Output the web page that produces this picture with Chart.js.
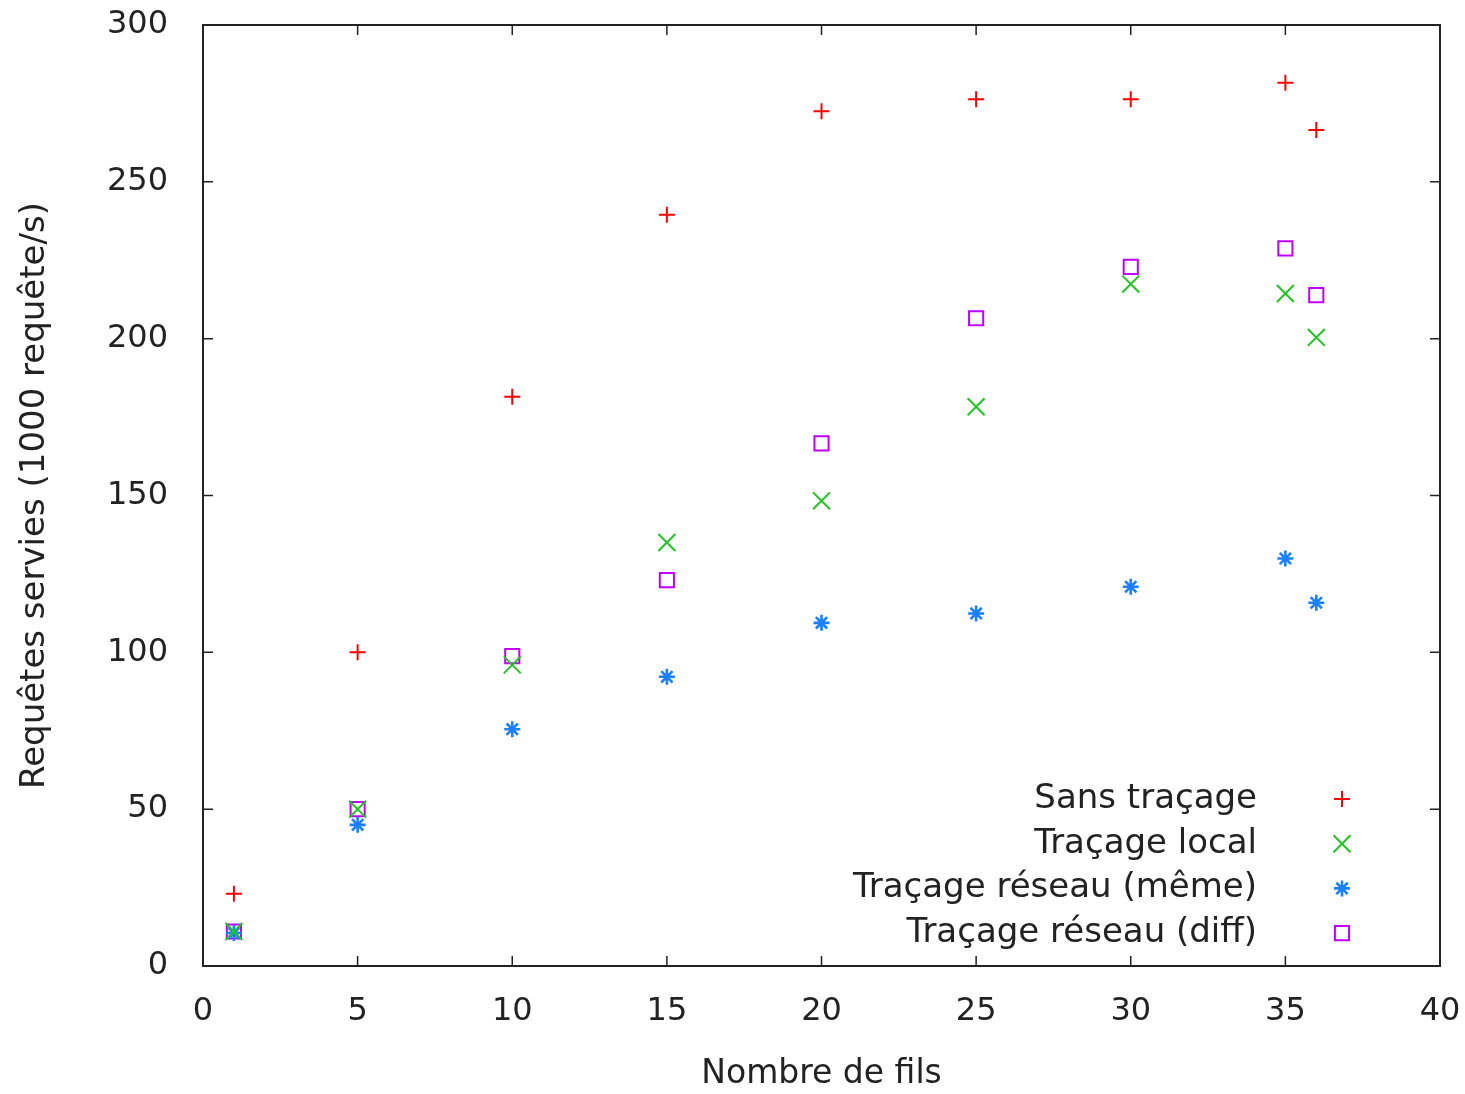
<!DOCTYPE html>
<html>
<head>
<meta charset="utf-8">
<script src="https://cdn.jsdelivr.net/npm/chart.js@4"></script>
<style>
  html, body { margin: 0; padding: 0; background: #fff; }
  #wrap { width: 1465px; height: 1094px; }
</style>
</head>
<body>
<div id="wrap"><canvas id="myChart"></canvas></div>
<script>
/* global Chart */

// data
const threads = [1, 5, 10, 15, 20, 25, 30, 35, 36];
const sansTracage = [23, 100, 181.5, 239.5, 272.5, 276.3, 276.3, 281.6, 266.5];
const tracageLocal = [11, 50, 96, 135, 148.3, 178.3, 217.4, 214.4, 200.4];
const reseauMeme = [10.5, 45, 75.5, 92.2, 109.4, 112.4, 120.9, 129.9, 115.8];
const reseauDiff = [11, 50, 98.8, 123, 166.6, 206.5, 222.9, 228.8, 213.9];
const xTicks = [0, 5, 10, 15, 20, 25, 30, 35, 40];
const yTicks = [0, 50, 100, 150, 200, 250, 300];

const seriesLabels = ["Sans traçage", "Traçage local", "Traçage réseau (même)", "Traçage réseau (diff)"];

const FONT = "'DejaVu Sans', sans-serif";
const TEXT = "#222222";

function points(values) {
  return threads.map(function (t, i) {
    return { x: t, y: values[i] };
  });
}

function series(label, values, color, style, radius, width) {
  return {
    label: label,
    data: points(values),
    borderColor: color,
    backgroundColor: "rgba(0,0,0,0)",
    pointStyle: style,
    pointRadius: radius,
    pointHoverRadius: radius,
    pointBorderWidth: width,
    showLine: false,
  };
}

// frame with inward ticks on all four sides, like gnuplot
const framePlugin = {
  id: "frame",
  beforeDatasetsDraw: function (chart) {
    const ctx = chart.ctx;
    const a = chart.chartArea;
    const xs = chart.scales.x;
    const ys = chart.scales.y;
    const len = 10;
    ctx.save();
    ctx.strokeStyle = "#222";
    ctx.lineWidth = 1.5;
    ctx.beginPath();
    xTicks.forEach(function (v) {
      const px = xs.getPixelForValue(v);
      ctx.moveTo(px, a.bottom);
      ctx.lineTo(px, a.bottom - len);
      ctx.moveTo(px, a.top);
      ctx.lineTo(px, a.top + len);
    });
    yTicks.forEach(function (v) {
      const py = ys.getPixelForValue(v);
      ctx.moveTo(a.left, py);
      ctx.lineTo(a.left + len, py);
      ctx.moveTo(a.right, py);
      ctx.lineTo(a.right - len, py);
    });
    ctx.stroke();
    ctx.lineWidth = 2;
    ctx.strokeRect(a.left, a.top, a.right - a.left, a.bottom - a.top);
    ctx.restore();
  },
};

// key in the lower right, text right-aligned, marker after it
const keyPlugin = {
  id: "key",
  afterDatasetsDraw: function (chart) {
    const ctx = chart.ctx;
    const a = chart.chartArea;
    const textRight = a.right - 183;
    const markX = a.right - 98;
    const firstRow = a.bottom - 167;
    const rowGap = 44.7;
    ctx.save();
    ctx.font = "34px " + FONT;
    ctx.textAlign = "right";
    ctx.textBaseline = "middle";
    chart.data.datasets.forEach(function (ds, i) {
      const y = firstRow + i * rowGap;
      ctx.fillStyle = TEXT;
      ctx.fillText(ds.label, textRight, y);
      ctx.strokeStyle = ds.borderColor;
      ctx.fillStyle = "rgba(0,0,0,0)";
      ctx.lineWidth = ds.pointBorderWidth;
      Chart.helpers.drawPoint(ctx, { pointStyle: ds.pointStyle, radius: ds.pointRadius, rotation: 0, borderWidth: ds.pointBorderWidth }, markX, y);
    });
    ctx.restore();
  },
};

const ctx = document.getElementById("myChart").getContext("2d");
const myChart = new Chart(ctx, {
  type: "scatter",
  data: {
    datasets: [
      series(seriesLabels[0], sansTracage, "#ff0000", "cross", 8, 2),
      series(seriesLabels[1], tracageLocal, "#22c422", "crossRot", 12, 2),
      series(seriesLabels[2], reseauMeme, "#1a80ff", "star", 8, 2.6),
      series(seriesLabels[3], reseauDiff, "#c000ff", "rect", 10, 2),
    ],
  },
  options: {
    responsive: true,
    maintainAspectRatio: false,
    animation: false,
    layout: { padding: { top: 25, right: 25, left: 0, bottom: 0 } },
    plugins: {
      legend: { display: false },
      tooltip: { enabled: false },
    },
    scales: {
      x: {
        type: "linear",
        min: 0,
        max: 40,
        afterBuildTicks: function (scale) {
          scale.ticks = xTicks.map(function (v) { return { value: v }; });
        },
        afterFit: function (scale) {
          scale.height = 128;
          scale.paddingLeft = 0;
          scale.paddingRight = 0;
        },
        grid: { display: false, drawTicks: false },
        border: { display: false },
        ticks: { padding: 26, color: TEXT, font: { family: FONT, size: 32 }, maxRotation: 0 },
        title: { display: true, text: "Nombre de fils", color: TEXT, font: { family: FONT, size: 33 }, padding: { top: 0, bottom: 0 } },
      },
      y: {
        type: "linear",
        min: 0,
        max: 300,
        afterBuildTicks: function (scale) {
          scale.ticks = yTicks.map(function (v) { return { value: v }; });
        },
        afterFit: function (scale) {
          scale.width = 203;
          scale.paddingTop = 0;
          scale.paddingBottom = 0;
        },
        grid: { display: false, drawTicks: false },
        border: { display: false },
        ticks: { padding: 35, color: TEXT, font: { family: FONT, size: 32 } },
        title: { display: true, text: "Requêtes servies (1000 requête/s)", color: TEXT, font: { family: FONT, size: 34 }, padding: { top: 15, bottom: 0 } },
      },
    },
  },
  plugins: [framePlugin, keyPlugin],
});
</script>
</body>
</html>
